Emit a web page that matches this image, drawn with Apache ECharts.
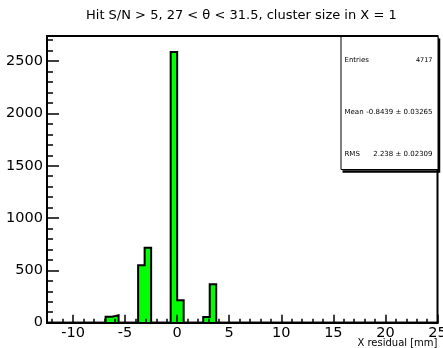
<!DOCTYPE html>
<html>
<head>
<meta charset="utf-8">
<script src="https://cdn.jsdelivr.net/npm/echarts@6/dist/echarts.min.js"></script>
<style>
  html, body { margin: 0; padding: 0; background: #fff; }
  #chart { width: 443px; height: 348px; }
</style>
</head>
<body>
<div id="chart"></div>
<script>
// Histogram binning: 60 bins from -12.5 to 25 mm
const xMin = -12.5;
const xMax = 25;
const binWidth = 0.625;

// Bin contents, one value per bin (left to right)
const counts = [
  0, 0, 0, 0, 0, 0, 0, 0, 0, 57,
  71, 0, 0, 0, 548, 716, 0, 0, 0, 2586,
  214, 0, 0, 0, 54, 367, 0, 0, 0, 0,
  0, 0, 0, 0, 0, 0, 0, 0, 0, 0,
  0, 0, 0, 0, 0, 0, 0, 0, 0, 0,
  0, 0, 0, 0, 0, 0, 0, 0, 0, 0
];

// Axis tick labels
const xTickLabels = [-10, -5, 0, 5, 10, 15, 20, 25];
const yTickLabels = [0, 500, 1000, 1500, 2000, 2500];
const yMax = 2740;

// Statistics box contents
const statNames = ['Entries', 'Mean', 'RMS'];
const statValues = ['4717', '-0.8439 \u00b1 0.03265', '2.238 \u00b1 0.02309'];

const titleText = 'Hit S/N > 5, 27 < \u03b8 < 31.5, cluster size in X = 1';
const xTitle = 'X residual [mm]';

const FONT = '"DejaVu Sans", "Liberation Sans", Arial, sans-serif';

// Step outline: one point per bin left edge plus the closing edge
const stepData = counts.map((c, i) => [xMin + i * binWidth, c]);
stepData.push([xMax, 0]);

// Minor tick positions
const xMinor = [];
for (let v = Math.ceil(xMin); v <= xMax; v += 1) xMinor.push(v);
const yMinor = [];
for (let v = 0; v <= yMax; v += 100) yMinor.push(v);

const chart = echarts.init(document.getElementById('chart'), null, { renderer: 'canvas' });

const baseX = {
  type: 'value', min: xMin, max: xMax, gridIndex: 0, position: 'bottom', z: 10,
  splitLine: { show: false }
};
const baseY = {
  type: 'value', min: 0, max: yMax, gridIndex: 0, position: 'left', z: 10,
  splitLine: { show: false }
};

chart.setOption({
  animation: false,
  backgroundColor: '#fff',
  title: [{
    text: titleText,
    left: 86,
    top: 9,
    padding: 0,
    textStyle: { fontFamily: FONT, fontSize: 13, fontWeight: 'normal', color: '#000' }
  }, {
    text: xTitle,
    right: 5.5,
    top: 338,
    padding: 0,
    textStyle: { fontFamily: FONT, fontSize: 10, fontWeight: 'normal', color: '#000' }
  }],
  grid: {
    left: 47, right: 5.5, top: 36, bottom: 25.3,
    containLabel: false,
    outerBoundsMode: 'none',
    show: true,
    borderColor: '#000',
    borderWidth: 2,
    backgroundColor: '#fff'
  },
  xAxis: [
    Object.assign({}, baseX, {
      axisLine: { show: true, onZero: false, lineStyle: { color: '#000', width: 2 } },
      axisTick: { show: true, inside: true, length: 8, customValues: xTickLabels,
                  lineStyle: { color: '#000', width: 1.5 } },
      axisLabel: { show: true, customValues: xTickLabels, margin: 3,
                   fontFamily: FONT, fontSize: 14.5, color: '#000',
                   formatter: v => String(v) }
    }),
    Object.assign({}, baseX, {
      axisLine: { show: false, onZero: false },
      axisTick: { show: true, inside: true, length: 4, customValues: xMinor,
                  lineStyle: { color: '#000', width: 1.5 } },
      axisLabel: { show: false }
    })
  ],
  yAxis: [
    Object.assign({}, baseY, {
      axisLine: { show: true, onZero: false, lineStyle: { color: '#000', width: 2 } },
      axisTick: { show: true, inside: true, length: 12, customValues: yTickLabels,
                  lineStyle: { color: '#000', width: 1.5 } },
      axisLabel: { show: true, customValues: yTickLabels, margin: 4,
                   fontFamily: FONT, fontSize: 14.5, color: '#000',
                   formatter: v => String(v) }
    }),
    Object.assign({}, baseY, {
      axisLine: { show: false, onZero: false },
      axisTick: { show: true, inside: true, length: 6, customValues: yMinor,
                  lineStyle: { color: '#000', width: 1.5 } },
      axisLabel: { show: false }
    })
  ],
  series: [{
    type: 'line',
    xAxisIndex: 0,
    yAxisIndex: 0,
    data: stepData,
    step: 'end',
    showSymbol: false,
    symbol: 'none',
    z: 2,
    lineStyle: { color: '#000', width: 2, join: 'miter', cap: 'butt' },
    areaStyle: { color: '#00ff00', opacity: 1 }
  }],
  graphic: [{
    type: 'group',
    left: 340,
    top: 36,
    z: 100,
    children: [
      // drop shadow on the right and bottom
      { type: 'polyline', shape: { points: [[98.5, 2], [98.5, 135], [2, 135]] },
        style: { stroke: '#000', lineWidth: 2.5, fill: null } },
      { type: 'rect', shape: { x: 0.5, y: 0, width: 97, height: 133 },
        style: { fill: '#fff', stroke: '#000', lineWidth: 1 } },
      { type: 'text', x: 4, y: 24, style: { text: statNames[0], font: '7px ' + FONT, fill: '#000', textVerticalAlign: 'middle' } },
      { type: 'text', x: 92, y: 24, style: { text: statValues[0], font: '6.5px ' + FONT, fill: '#000', textAlign: 'right', textVerticalAlign: 'middle' } },
      { type: 'text', x: 4, y: 76, style: { text: statNames[1], font: '7px ' + FONT, fill: '#000', textVerticalAlign: 'middle' } },
      { type: 'text', x: 92, y: 76, style: { text: statValues[1], font: '7px ' + FONT, fill: '#000', textAlign: 'right', textVerticalAlign: 'middle' } },
      { type: 'text', x: 4, y: 118, style: { text: statNames[2], font: '7px ' + FONT, fill: '#000', textVerticalAlign: 'middle' } },
      { type: 'text', x: 92, y: 118, style: { text: statValues[2], font: '7px ' + FONT, fill: '#000', textAlign: 'right', textVerticalAlign: 'middle' } }
    ]
  }]
});
</script>
</body>
</html>
